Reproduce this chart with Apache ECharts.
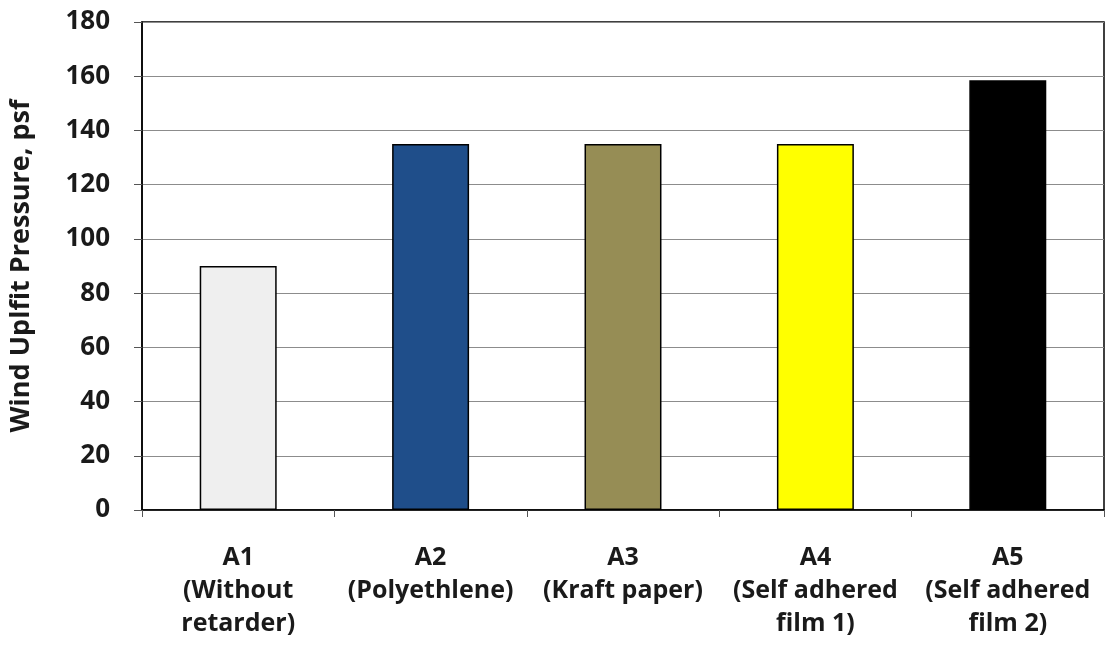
<!DOCTYPE html>
<html>
<head>
<meta charset="utf-8">
<script src="https://cdn.jsdelivr.net/npm/echarts@6/dist/echarts.min.js"></script>
<style>
  html, body { margin: 0; padding: 0; background: #ffffff; }
  #chart { width: 1105px; height: 647px; }
</style>
</head>
<body>
<div id="chart"></div>
<script>
// Wind uplift test results for each retarder assembly
const categories = [
  'A1\n(Without\nretarder)',
  'A2\n(Polyethlene)',
  'A3\n(Kraft paper)',
  'A4\n(Self adhered\nfilm 1)',
  'A5\n(Self adhered\nfilm 2)'
];
const pressures = [90, 135, 135, 135, 158.5];
const barColors = ['#efefef', '#1f4e8a', '#968d55', '#ffff00', '#000000'];
const yTicks = { min: 0, max: 180, interval: 20 };
const yTitle = 'Wind Uplfit Pressure, psf';

const fontFamily = '"Open Sans", Lato, "DejaVu Sans", sans-serif';

const chart = echarts.init(document.getElementById('chart'), null, { renderer: 'canvas' });
chart.setOption({
  backgroundColor: '#ffffff',
  animation: false,
  grid: {
    left: 140, right: 1, top: 22, bottom: 137,
    show: true, borderColor: '#000000', borderWidth: 1.5,
    backgroundColor: 'transparent'
  },
  xAxis: {
    type: 'category',
    data: categories,
    axisLine: { lineStyle: { color: '#000000', width: 1.5 } },
    axisTick: { show: true, length: 7, lineStyle: { color: '#555555' } },
    axisLabel: {
      margin: 31,
      color: '#1a1a1a',
      fontFamily: fontFamily,
      fontWeight: 'bold',
      fontSize: 25,
      lineHeight: 33,
      interval: 0
    }
  },
  yAxis: {
    type: 'value',
    min: yTicks.min, max: yTicks.max, interval: yTicks.interval,
    name: yTitle,
    nameLocation: 'middle',
    nameGap: 107,
    nameTextStyle: {
      color: '#1a1a1a', fontFamily: fontFamily, fontWeight: 'bold', fontSize: 27
    },
    axisLine: { show: true, lineStyle: { color: '#000000', width: 1.5 } },
    axisTick: { show: true, length: 8, lineStyle: { color: '#555555' } },
    axisLabel: {
      margin: 32,
      color: '#1a1a1a',
      fontFamily: fontFamily,
      fontWeight: 'bold',
      fontSize: 26
    },
    splitLine: { show: true, lineStyle: { color: '#8c8c8c', width: 1 } }
  },
  series: [{
    type: 'bar',
    data: pressures.map((v, i) => ({
      value: v,
      itemStyle: { color: barColors[i] }
    })),
    barWidth: '40%',
    itemStyle: { borderColor: '#000000', borderWidth: 1.5 }
  }]
});
</script>
</body>
</html>
